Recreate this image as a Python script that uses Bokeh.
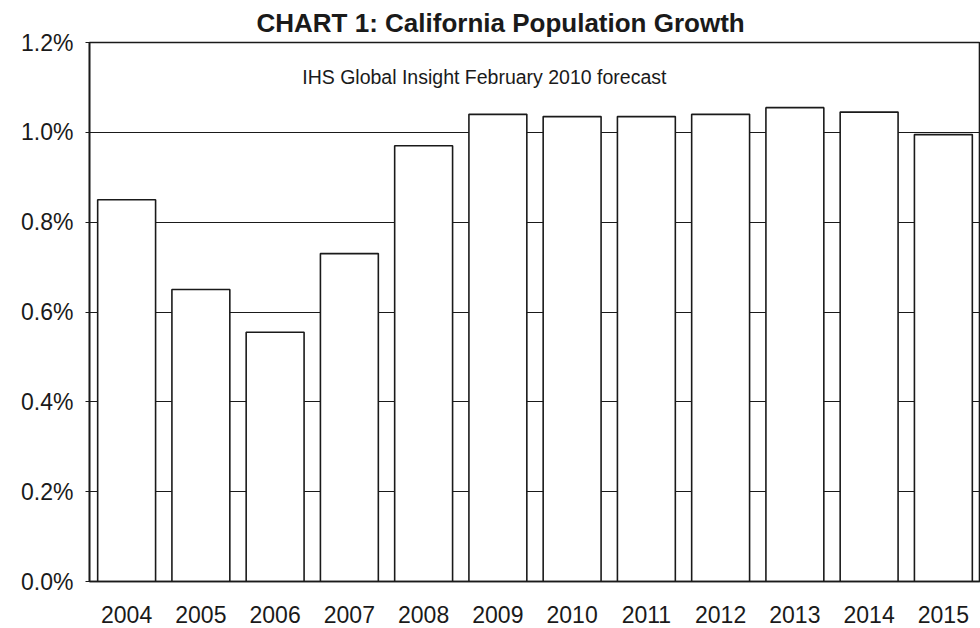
from bokeh.plotting import figure
from bokeh.models import FactorRange, Range1d, FixedTicker, PrintfTickFormatter, Label, Title
from bokeh.embed import file_html
from bokeh.resources import INLINE

# ---- data ----
years = ["2004", "2005", "2006", "2007", "2008", "2009",
         "2010", "2011", "2012", "2013", "2014", "2015"]
growth_pct = [0.85, 0.65, 0.555, 0.73, 0.97, 1.04,
              1.035, 1.035, 1.04, 1.055, 1.045, 0.995]
y_ticks = [0.0, 0.2, 0.4, 0.6, 0.8, 1.0, 1.2]
title_text = "CHART 1: California Population Growth"
subtitle_text = "IHS Global Insight February 2010 forecast"

FONT = "Liberation Sans"
INK = "#1a1a1a"

p = figure(
    x_range=FactorRange(*years, range_padding=0),
    y_range=Range1d(0, 1.2),
    width=980, height=628,
    output_backend="svg", toolbar_location=None,
    min_border_left=89, min_border_right=0,
    min_border_top=42, min_border_bottom=47,
)

p.title = Title(text=title_text, align="left", offset=167,
                text_font=FONT, text_font_size="26px", text_font_style="bold",
                text_color=INK, standoff=9)

p.vbar(x=years, top=growth_pct, width=0.78, fill_color="white",
       line_color=INK, line_width=1.6)

# axes
p.yaxis.ticker = FixedTicker(ticks=y_ticks)
p.yaxis.formatter = PrintfTickFormatter(format="%.1f%%")
for ax in (p.xaxis[0], p.yaxis[0]):
    ax.axis_line_color = INK
    ax.axis_line_width = 1.6
    ax.major_label_text_font = FONT
    ax.major_label_text_font_size = "23px"
    ax.major_label_text_color = INK
    ax.minor_tick_line_color = None
p.yaxis.major_tick_in = 0
p.yaxis.major_tick_out = 4
p.yaxis.major_tick_line_color = INK
p.yaxis.major_label_standoff = 12
p.xaxis.major_tick_line_color = None
p.xaxis.major_label_standoff = 18

p.xgrid.grid_line_color = None
p.ygrid.ticker = FixedTicker(ticks=y_ticks)
p.ygrid.grid_line_color = INK
p.ygrid.grid_line_width = 1.2

p.outline_line_color = INK
p.outline_line_width = 1.6
p.background_fill_color = "white"
p.border_fill_color = "white"

p.add_layout(Label(x=2.865, y=1.124, text=subtitle_text, text_font=FONT,
                   text_font_size="19.5px", text_color=INK,
                   text_baseline="alphabetic", text_align="left"))

open("out.html", "w").write(file_html(p, INLINE))
